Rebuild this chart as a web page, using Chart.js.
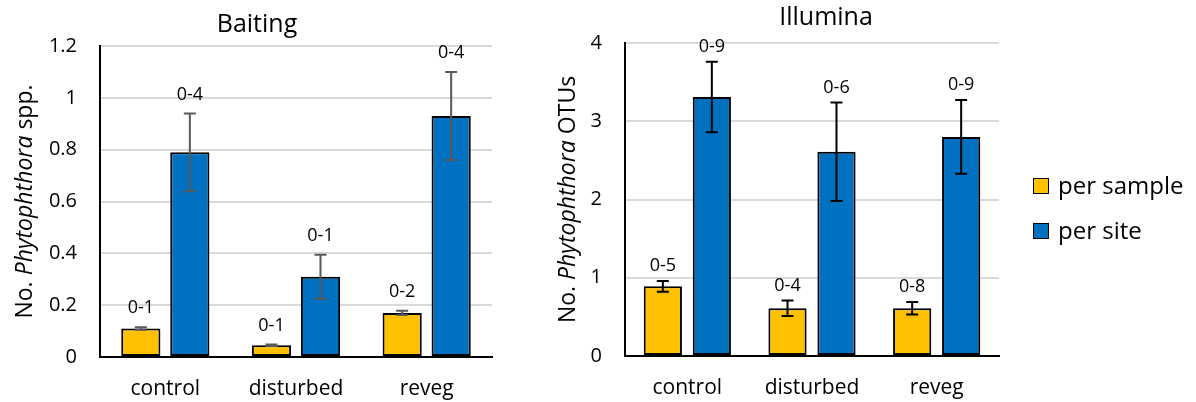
<!DOCTYPE html>
<html>
<head>
<meta charset="utf-8">
<script src="https://cdn.jsdelivr.net/npm/chart.js@4.4.1/dist/chart.umd.min.js"></script>
<style>
  body { margin: 0; background: #fff; width: 1196px; height: 402px; overflow: hidden; position: relative; font-family: 'Open Sans', sans-serif; }
  .wrap { position: absolute; top: 0; height: 402px; }
  #leftWrap { left: 0; width: 515px; }
  #rightWrap { left: 456px; width: 740px; }
  #legend { position: absolute; left: 1033px; top: 162px; }
  #legend div { height: 45px; line-height: 45px; font-size: 24px; color: #000; white-space: nowrap; }
  #legend span { display: inline-block; width: 14px; height: 14px; border: 1.5px solid #000; vertical-align: middle; margin-right: 9px; position: relative; top: -2px; }
</style>
</head>
<body>
<div class="wrap" id="leftWrap"><canvas id="baiting" width="515" height="402"></canvas></div>
<div class="wrap" id="rightWrap"><canvas id="illumina" width="740" height="402"></canvas></div>
<div id="legend"></div>
<script>
// --- data ---
const categories = ['control', 'disturbed', 'reveg'];
const seriesNames = ['per sample', 'per site'];
const seriesColors = ['#FFC000', '#0070C0'];

const baitSample = [0.11, 0.045, 0.17];
const baitSampleErr = [0.005, 0.003, 0.008];
const baitSite = [0.79, 0.31, 0.93];
const baitSiteErr = [0.15, 0.085, 0.17];
const baitSampleRange = ['0-1', '0-1', '0-2'];
const baitSiteRange = ['0-4', '0-1', '0-4'];
const baitTicks = ['0', '0.2', '0.4', '0.6', '0.8', '1', '1.2'];
const baitYTitle = ['No. ', 'Phytophthora', ' spp.'];

const illSample = [0.89, 0.61, 0.61];
const illSampleErr = [0.07, 0.1, 0.08];
const illSite = [3.31, 2.61, 2.8];
const illSiteErr = [0.45, 0.63, 0.47];
const illSampleRange = ['0-5', '0-4', '0-8'];
const illSiteRange = ['0-9', '0-6', '0-9'];
const illTicks = ['0', '1', '2', '3', '4'];
const illYTitle = ['No. ', 'Phytophthora', ' OTUs'];

Chart.defaults.font.family = "'Open Sans', sans-serif";
Chart.defaults.color = '#000';

// error bars + range labels above each bar
const errorBars = {
    id: 'errorBars',
    afterDatasetsDraw(chart, args, opts) {
        const ctx = chart.ctx;
        const y = chart.scales.y;
        chart.data.datasets.forEach((ds, i) => {
            chart.getDatasetMeta(i).data.forEach((bar, j) => {
                const v = ds.data[j], e = ds.errors[j];
                const top = y.getPixelForValue(v + e);
                const bot = y.getPixelForValue(v - e);
                ctx.save();
                ctx.strokeStyle = opts.color;
                ctx.lineWidth = 2;
                ctx.beginPath();
                ctx.moveTo(bar.x, top); ctx.lineTo(bar.x, bot);
                ctx.moveTo(bar.x - 6, top); ctx.lineTo(bar.x + 6, top);
                ctx.moveTo(bar.x - 6, bot); ctx.lineTo(bar.x + 6, bot);
                ctx.stroke();
                ctx.fillStyle = '#000';
                ctx.font = "18px 'Open Sans'";
                ctx.textAlign = 'center';
                ctx.textBaseline = 'middle';
                ctx.fillText(ds.ranges[j], bar.x, top - opts.gap);
                ctx.restore();
            });
        });
    }
};

// rotated y title with the genus in italics
const yTitle = {
    id: 'yTitle',
    afterDraw(chart, args, opts) {
        const ctx = chart.ctx;
        const area = chart.chartArea;
        const fonts = opts.parts.map((p, k) => (k === 1 ? 'italic ' : '') + "23px 'Open Sans'");
        let total = 0;
        const widths = opts.parts.map((p, k) => { ctx.font = fonts[k]; const w = ctx.measureText(p).width; total += w; return w; });
        ctx.save();
        ctx.translate(opts.x, (area.top + area.bottom) / 2);
        ctx.rotate(-Math.PI / 2);
        ctx.fillStyle = '#000';
        ctx.textBaseline = 'middle';
        let x = -total / 2;
        opts.parts.forEach((p, k) => { ctx.font = fonts[k]; ctx.fillText(p, x, 0); x += widths[k]; });
        ctx.restore();
    }
};

// recentre the chart title (excel centres it on the whole chart object)
const titleCenter = {
    id: 'titleCenter',
    afterLayout(chart, args, opts) {
        const t = chart.titleBlock;
        if (!t) return;
        const half = (t.right - t.left) / 2;
        t.left = opts.cx - half;
        t.right = opts.cx + half;
    }
};

function makeChart(id, o) {
    return new Chart(document.getElementById(id), {
        type: 'bar',
        data: {
            labels: categories,
            datasets: [
                { label: seriesNames[0], data: o.sample, errors: o.sampleErr, ranges: o.sampleRange, backgroundColor: seriesColors[0] },
                { label: seriesNames[1], data: o.site, errors: o.siteErr, ranges: o.siteRange, backgroundColor: seriesColors[1] }
            ].map(d => Object.assign(d, {
                borderColor: '#000', borderWidth: 2, borderSkipped: false,
                barPercentage: o.barPct, categoryPercentage: o.catPct
            }))
        },
        options: {
            responsive: false,
            animation: false,
            layout: { padding: o.padding },
            scales: {
                x: {
                    grid: { display: false, drawTicks: false },
                    border: { color: '#000', width: 2 },
                    ticks: { font: { size: 21 }, padding: 19 },
                    afterFit: s => { s.height = o.xHeight; }
                },
                y: {
                    min: 0, max: o.max,
                    ticks: { stepSize: o.step, padding: 23, font: { size: 20 }, callback: (v, i) => o.ticks[i] },
                    grid: { color: '#d9d9d9', lineWidth: 2, drawTicks: false },
                    border: { color: '#000', width: 2 },
                    afterFit: s => { s.width = o.yWidth; }
                }
            },
            plugins: {
                legend: { display: false },
                tooltip: { enabled: false },
                title: { display: true, text: o.title, font: { size: 25, weight: 'normal' }, color: '#000', padding: o.titlePad },
                titleCenter: { cx: o.titleX },
                errorBars: { color: o.errColor, gap: o.gap },
                yTitle: { parts: o.yTitle, x: o.yTitleX }
            }
        },
        plugins: [errorBars, yTitle, titleCenter]
    });
}

makeChart('baiting', {
    sample: baitSample, sampleErr: baitSampleErr, sampleRange: baitSampleRange,
    site: baitSite, siteErr: baitSiteErr, siteRange: baitSiteRange,
    max: 1.2, step: 0.2, ticks: baitTicks, title: 'Baiting', yTitle: baitYTitle,
    padding: { left: 13, right: 23, top: 0, bottom: 0 }, yWidth: 87, xHeight: 45,
    titlePad: { top: 10, bottom: 6 }, titleX: 257, yTitleX: 25,
    barPct: 0.8, catPct: 0.75, errColor: '#595959', gap: 19
});

const ill = makeChart('illumina', {
    sample: illSample, sampleErr: illSampleErr, sampleRange: illSampleRange,
    site: illSite, siteErr: illSiteErr, siteRange: illSiteRange,
    max: 4, step: 1, ticks: illTicks, title: 'Illumina', yTitle: illYTitle,
    padding: { left: 100, right: 197, top: 0, bottom: 0 }, yWidth: 69, xHeight: 46,
    titlePad: { top: 3, bottom: 10 }, titleX: 370, yTitleX: 112,
    barPct: 0.78, catPct: 0.786, errColor: '#000', gap: 15
});

// html legend built from the right chart's datasets
const legend = document.getElementById('legend');
ill.data.datasets.forEach(ds => {
    const row = document.createElement('div');
    const sw = document.createElement('span');
    sw.style.background = ds.backgroundColor;
    row.appendChild(sw);
    row.appendChild(document.createTextNode(ds.label));
    legend.appendChild(row);
});
</script>
</body>
</html>
